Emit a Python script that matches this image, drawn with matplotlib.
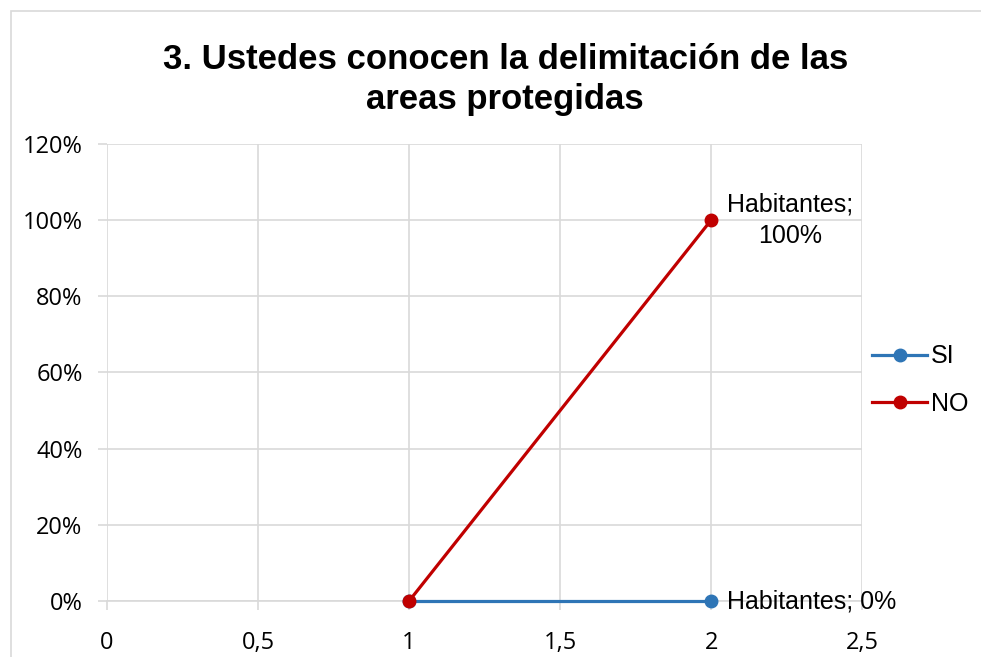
import matplotlib.pyplot as plt
from matplotlib.patches import Rectangle
from matplotlib.ticker import FuncFormatter

plt.rcParams['font.family'] = ['Liberation Sans', 'DejaVu Sans']

# data
x_vals = [1, 2]
si_vals = [0.0, 0.0]
no_vals = [0.0, 1.0]
series_names = ["SI", "NO"]
label_text = "Habitantes"

blue = "#2E75B6"
red = "#C00000"
grid_col = "#D9D9D9"

fig = plt.figure(figsize=(9.81, 6.57), dpi=100)
ax = fig.add_axes([0.109, 0.0852, 0.770, 0.696])

# outer chart frame
fig.patches.append(Rectangle((11 / 981, -0.1), 1.2, 1 - 11 / 657 + 0.1,
                             transform=fig.transFigure, fill=False,
                             edgecolor=grid_col, linewidth=1.2))

ax.plot(x_vals, si_vals, color=blue, linewidth=2.3, marker="o", markersize=9,
        label=series_names[0], zorder=3, clip_on=False)
ax.plot(x_vals, no_vals, color=red, linewidth=2.3, marker="o", markersize=9,
        label=series_names[1], zorder=4, clip_on=False)

ax.set_xlim(0, 2.5)
ax.set_ylim(0, 1.2)
ax.set_xticks([0, 0.5, 1, 1.5, 2, 2.5])
ax.set_yticks([0, 0.2, 0.4, 0.6, 0.8, 1.0, 1.2])
ax.xaxis.set_major_formatter(FuncFormatter(lambda v, p: ("%g" % v).replace(".", ",")))
ax.yaxis.set_major_formatter(FuncFormatter(lambda v, p: "%d%%" % round(v * 100)))
ax.tick_params(axis="both", labelsize=17, length=6.5, color=grid_col, width=1.2)
ax.tick_params(axis="x", pad=15)
ax.tick_params(axis="y", pad=11)
for lbl in ax.get_xticklabels() + ax.get_yticklabels():
    lbl.set_family(["Open Sans", "DejaVu Sans"])
ax.grid(True, color=grid_col, linewidth=1.2)
ax.set_axisbelow(True)
for s in ["top", "right", "left"]:
    ax.spines[s].set_visible(False)
ax.spines["bottom"].set_color(grid_col)
ax.spines["bottom"].set_linewidth(1.2)
ax.spines["bottom"].set_zorder(1)

# data labels
ax.annotate("%s;\n%d%%" % (label_text, no_vals[1] * 100), (x_vals[1], no_vals[1]),
            xytext=(57, 0), textcoords="offset points", ha="center", va="center",
            fontsize=18, linespacing=1.4)
ax.annotate("%s; %d%%" % (label_text, si_vals[1] * 100), (x_vals[1], si_vals[1]),
            xytext=(11, 0), textcoords="offset points", ha="left", va="center",
            fontsize=18)

fig.text(0.515, 0.879, "3. Ustedes conocen la delimitación de las\nareas protegidas",
         ha="center", va="center", fontsize=25, fontweight="bold", linespacing=1.25)

ax.legend(loc="center left", bbox_to_anchor=(1.0, 0.483), frameon=False,
          fontsize=18, handlelength=2.2, handletextpad=0.15, labelspacing=0.95,
          borderaxespad=0)

fig.savefig("out.png", dpi=100)
